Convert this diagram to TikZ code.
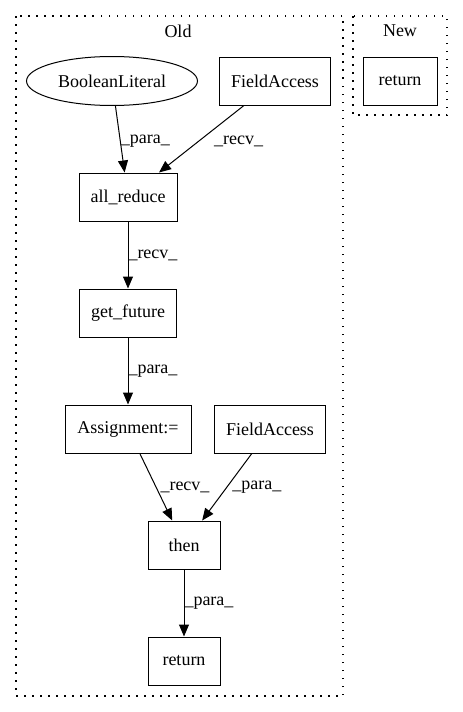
\documentclass[tikz,border=0pt]{standalone}
\usepackage{fontspec}
\setmainfont{Liberation Serif}
\usetikzlibrary{arrows.meta,shapes.geometric}

\begin{document}
\begin{tikzpicture}[x=1pt,y=-1pt,
	  font=\fontsize{18}{21}\selectfont,
	  box/.style={draw,line width=1pt,rectangle,inner sep=0pt,minimum height=48pt},
	  oval/.style={draw,line width=1pt,ellipse,inner sep=0pt,minimum width=171pt,minimum height=49pt},
	  flow/.style={line width=1pt,-{Triangle[length=12pt,width=10pt]}},
	  cluster/.style={line width=1.3pt,dash pattern=on 1.5pt off 6.5pt},
	  elabel/.style={anchor=west,inner sep=0pt}]
	  \def\NarrowBox{72pt}
	  \useasboundingbox (0,0) rectangle (463,712);
	  % clusters
	  \draw[cluster] (16,16) rectangle (343,696);
	  \draw[cluster] (353,16) rectangle (447,115);
	  \node (oldlbl) at (178,31) {Old};
	  \node (newlbl) at (400,31) {New};
	  % old
	  \node[oval] (blit) at (112,81) {BooleanLiteral};
	  \node[box,minimum width=111pt] (fieldA) at (275,81) {FieldAccess};
	  \node[box,minimum width=98pt] (allreduce) at (128,197) {all\_reduce};
	  \node[box,minimum width=97pt] (getfuture) at (128,313) {get\_future};
	  \node[box,minimum width=126pt] (assign) at (128,429) {Assignment:=};
	  \node[box,minimum width=111pt] (fieldB) at (270,429) {FieldAccess};
	  \node[box,minimum width=\NarrowBox] (then) at (184,545) {then};
	  \node[box,minimum width=\NarrowBox] (oldret) at (184,661) {return};
	  % new
	  \node[box,minimum width=74pt] (newret) at (400,81) {return};
	  \draw[flow] (blit) -- node[elabel,pos=0.534] {\_para\_} (allreduce);
	  \draw[flow] (fieldA) -- node[elabel,pos=0.534,xshift=15pt] {\_recv\_} (allreduce);
	  \draw[flow] (allreduce) -- node[elabel] {\_recv\_} (getfuture);
	  \draw[flow] (getfuture) -- node[elabel,pos=0.51] {\_para\_} (assign);
	  \draw[flow] (assign) -- node[elabel,xshift=4pt] {\_recv\_} (then);
	  \draw[flow] (fieldB) -- node[elabel,xshift=5pt] {\_para\_} (then);
	  \draw[flow] (then) -- node[elabel] {\_para\_} (oldret);
	\end{tikzpicture}
\end{document}
